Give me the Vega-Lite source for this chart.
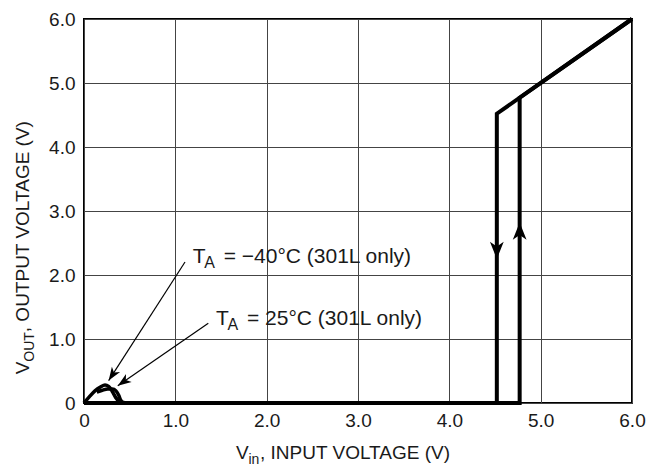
{
  "$schema": "https://vega.github.io/schema/vega-lite/v6.json",
  "width": 548,
  "height": 384,
  "autosize": "none",
  "padding": {"left": 84, "top": 19, "right": 15, "bottom": 68},
  "background": "white",
  "config": {
    "view": {"stroke": "#000000", "strokeWidth": 2},
    "font": "Liberation Sans",
    "axis": {
      "grid": true,
      "gridColor": "#444444",
      "gridWidth": 1,
      "gridOpacity": 1,
      "domain": false,
      "ticks": false,
      "labelFont": "Liberation Sans",
      "labelFontSize": 19,
      "labelColor": "#1a1a1a",
      "labelFlush": false,
      "labelOverlap": false,
      "title": null
    }
  },
  "datasets": {
    "curve": [
      {"branch": "rise", "ord": 1, "vin": 0, "vout": 0},
      {"branch": "rise", "ord": 2, "vin": 4.77, "vout": 0},
      {"branch": "rise", "ord": 3, "vin": 4.77, "vout": 4.77},
      {"branch": "rise", "ord": 4, "vin": 6, "vout": 6},
      {"branch": "fall", "ord": 1, "vin": 6, "vout": 6},
      {"branch": "fall", "ord": 2, "vin": 4.52, "vout": 4.52},
      {"branch": "fall", "ord": 3, "vin": 4.52, "vout": 0}
    ],
    "humps": [
      {"temp": "-40", "ord": 1, "vin": 0, "vout": 0},
      {"temp": "-40", "ord": 2, "vin": 0.06, "vout": 0.1},
      {"temp": "-40", "ord": 3, "vin": 0.12, "vout": 0.19},
      {"temp": "-40", "ord": 4, "vin": 0.18, "vout": 0.25},
      {"temp": "-40", "ord": 5, "vin": 0.23, "vout": 0.28},
      {"temp": "-40", "ord": 6, "vin": 0.27, "vout": 0.26},
      {"temp": "-40", "ord": 7, "vin": 0.31, "vout": 0.18},
      {"temp": "-40", "ord": 8, "vin": 0.35, "vout": 0.08},
      {"temp": "-40", "ord": 9, "vin": 0.39, "vout": 0.02},
      {"temp": "-40", "ord": 10, "vin": 0.44, "vout": 0},
      {"temp": "25", "ord": 1, "vin": 0.14, "vout": 0.17},
      {"temp": "25", "ord": 2, "vin": 0.2, "vout": 0.2},
      {"temp": "25", "ord": 3, "vin": 0.26, "vout": 0.22},
      {"temp": "25", "ord": 4, "vin": 0.31, "vout": 0.22},
      {"temp": "25", "ord": 5, "vin": 0.35, "vout": 0.19},
      {"temp": "25", "ord": 6, "vin": 0.38, "vout": 0.12},
      {"temp": "25", "ord": 7, "vin": 0.4, "vout": 0.05},
      {"temp": "25", "ord": 8, "vin": 0.43, "vout": 0.01},
      {"temp": "25", "ord": 9, "vin": 0.47, "vout": 0}
    ],
    "leaders": [
      {"id": "m40", "vin": 1.106, "vout": 2.203, "vin2": 0.27, "vout2": 0.35},
      {"id": "p25", "vin": 1.361, "vout": 1.245, "vin2": 0.37, "vout2": 0.27}
    ],
    "heads": [
      {"id": "m40", "vin": 0.27, "vout": 0.35},
      {"id": "p25", "vin": 0.37, "vout": 0.27},
      {"id": "down", "vin": 4.52, "vout": 2.25},
      {"id": "up", "vin": 4.77, "vout": 2.82}
    ],
    "notes": [
      {"id": "m40", "vin": 1.19, "vout": 2.183, "main": "T", "sub": "A", "rest": "= −40°C (301L only)"},
      {"id": "p25", "vin": 1.445, "vout": 1.219, "main": "T", "sub": "A", "rest": "= 25°C (301L only)"}
    ],
    "xtitle": [
      {"vin": 1.664, "vout": -0.88, "main": "V", "sub": "in", "rest": ", INPUT VOLTAGE (V)"}
    ],
    "ytitle": [
      {"vin": -0.602, "vout": 0.45, "main": "V", "sub": "OUT", "rest": ", OUTPUT VOLTAGE (V)"}
    ]
  },
  "layer": [
    {
      "data": {"name": "curve"},
      "mark": {"type": "line", "color": "#000000", "strokeWidth": 4, "strokeJoin": "miter", "strokeCap": "butt"},
      "encoding": {
        "x": {
          "field": "vin", "type": "quantitative",
          "scale": {"domain": [0, 6], "nice": false, "zero": false},
          "axis": {"values": [0, 1, 2, 3, 4, 5, 6], "labelExpr": "datum.value == 0 ? '0' : format(datum.value, '.1f')", "labelPadding": 8}
        },
        "y": {
          "field": "vout", "type": "quantitative",
          "scale": {"domain": [0, 6], "nice": false, "zero": false},
          "axis": {"values": [0, 1, 2, 3, 4, 5, 6], "labelExpr": "datum.value == 0 ? '0' : format(datum.value, '.1f')", "labelPadding": 9}
        },
        "detail": {"field": "branch"},
        "order": {"field": "ord", "type": "quantitative"}
      }
    },
    {
      "data": {"name": "humps"},
      "mark": {"type": "line", "color": "#000000", "strokeWidth": 3.5, "interpolate": "monotone"},
      "encoding": {
        "x": {"field": "vin", "type": "quantitative"},
        "y": {"field": "vout", "type": "quantitative"},
        "detail": {"field": "temp"},
        "order": {"field": "ord", "type": "quantitative"}
      }
    },
    {
      "data": {"name": "leaders"},
      "mark": {"type": "rule", "color": "#000000", "strokeWidth": 1.2},
      "encoding": {
        "x": {"field": "vin", "type": "quantitative"},
        "y": {"field": "vout", "type": "quantitative"},
        "x2": {"field": "vin2"},
        "y2": {"field": "vout2"}
      }
    },
    {
      "data": {"name": "heads"},
      "transform": [{"filter": "datum.id == 'm40'"}],
      "mark": {"type": "point", "shape": "M0,0L0.8,2.2L0,1.6L-0.8,2.2Z", "filled": true, "color": "#000000", "opacity": 1, "size": 150, "angle": 213, "strokeWidth": 0},
      "encoding": {"x": {"field": "vin", "type": "quantitative"}, "y": {"field": "vout", "type": "quantitative"}}
    },
    {
      "data": {"name": "heads"},
      "transform": [{"filter": "datum.id == 'p25'"}],
      "mark": {"type": "point", "shape": "M0,0L0.8,2.2L0,1.6L-0.8,2.2Z", "filled": true, "color": "#000000", "opacity": 1, "size": 150, "angle": 235, "strokeWidth": 0},
      "encoding": {"x": {"field": "vin", "type": "quantitative"}, "y": {"field": "vout", "type": "quantitative"}}
    },
    {
      "data": {"name": "heads"},
      "transform": [{"filter": "datum.id == 'down'"}],
      "mark": {"type": "point", "shape": "M0,0L1,2.5L0,1.8L-1,2.5Z", "filled": true, "color": "#000000", "opacity": 1, "size": 190, "angle": 180, "strokeWidth": 0},
      "encoding": {"x": {"field": "vin", "type": "quantitative"}, "y": {"field": "vout", "type": "quantitative"}}
    },
    {
      "data": {"name": "heads"},
      "transform": [{"filter": "datum.id == 'up'"}],
      "mark": {"type": "point", "shape": "M0,0L1,2.5L0,1.8L-1,2.5Z", "filled": true, "color": "#000000", "opacity": 1, "size": 190, "angle": 0, "strokeWidth": 0},
      "encoding": {"x": {"field": "vin", "type": "quantitative"}, "y": {"field": "vout", "type": "quantitative"}}
    },
    {
      "data": {"name": "notes"},
      "mark": {"type": "text", "align": "left", "baseline": "alphabetic", "fontSize": 21, "color": "#1a1a1a"},
      "encoding": {"x": {"field": "vin", "type": "quantitative"}, "y": {"field": "vout", "type": "quantitative"}, "text": {"field": "main"}}
    },
    {
      "data": {"name": "notes"},
      "mark": {"type": "text", "align": "left", "baseline": "alphabetic", "fontSize": 16, "dx": 11.5, "dy": 5, "color": "#1a1a1a"},
      "encoding": {"x": {"field": "vin", "type": "quantitative"}, "y": {"field": "vout", "type": "quantitative"}, "text": {"field": "sub"}}
    },
    {
      "data": {"name": "notes"},
      "mark": {"type": "text", "align": "left", "baseline": "alphabetic", "fontSize": 21, "dx": 31, "color": "#1a1a1a"},
      "encoding": {"x": {"field": "vin", "type": "quantitative"}, "y": {"field": "vout", "type": "quantitative"}, "text": {"field": "rest"}}
    },
    {
      "data": {"name": "xtitle"},
      "mark": {"type": "text", "align": "left", "baseline": "alphabetic", "fontSize": 19, "color": "#1a1a1a"},
      "encoding": {"x": {"field": "vin", "type": "quantitative"}, "y": {"field": "vout", "type": "quantitative"}, "text": {"field": "main"}}
    },
    {
      "data": {"name": "xtitle"},
      "mark": {"type": "text", "align": "left", "baseline": "alphabetic", "fontSize": 14, "dx": 12.5, "dy": 5, "color": "#1a1a1a"},
      "encoding": {"x": {"field": "vin", "type": "quantitative"}, "y": {"field": "vout", "type": "quantitative"}, "text": {"field": "sub"}}
    },
    {
      "data": {"name": "xtitle"},
      "mark": {"type": "text", "align": "left", "baseline": "alphabetic", "fontSize": 19, "dx": 24, "color": "#1a1a1a"},
      "encoding": {"x": {"field": "vin", "type": "quantitative"}, "y": {"field": "vout", "type": "quantitative"}, "text": {"field": "rest"}}
    },
    {
      "data": {"name": "ytitle"},
      "mark": {"type": "text", "align": "left", "baseline": "alphabetic", "fontSize": 19, "angle": 270, "color": "#1a1a1a"},
      "encoding": {"x": {"field": "vin", "type": "quantitative"}, "y": {"field": "vout", "type": "quantitative"}, "text": {"field": "main"}}
    },
    {
      "data": {"name": "ytitle"},
      "mark": {"type": "text", "align": "left", "baseline": "alphabetic", "fontSize": 14, "angle": 270, "dx": 12.5, "dy": 5, "color": "#1a1a1a"},
      "encoding": {"x": {"field": "vin", "type": "quantitative"}, "y": {"field": "vout", "type": "quantitative"}, "text": {"field": "sub"}}
    },
    {
      "data": {"name": "ytitle"},
      "mark": {"type": "text", "align": "left", "baseline": "alphabetic", "fontSize": 19, "angle": 270, "dx": 42, "color": "#1a1a1a"},
      "encoding": {"x": {"field": "vin", "type": "quantitative"}, "y": {"field": "vout", "type": "quantitative"}, "text": {"field": "rest"}}
    }
  ]
}
